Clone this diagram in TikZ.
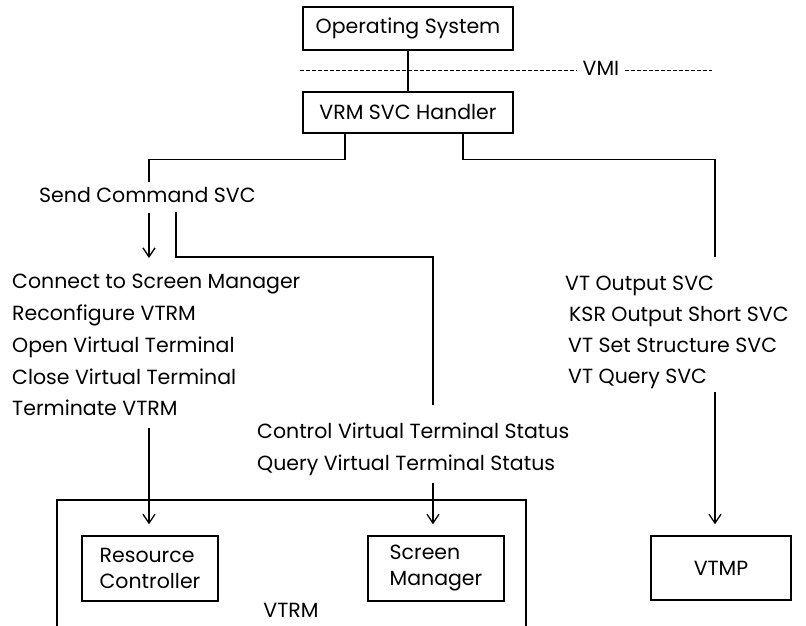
\documentclass[tikz,border=0pt]{standalone}
\usepackage{fontspec}
\setmainfont{Poppins}
\usetikzlibrary{arrows.meta}

\tikzset{
  every node/.style={font=\fontsize{20.5pt}{26pt}\selectfont, inner sep=0pt},
  line/.style={line width=1.3pt},
  box/.style={draw, line width=1.3pt, align=center},
  arr/.style={line width=1.3pt, -{Straight Barb[length=9pt, width=12pt, line width=1.3pt]}},
  vmiline/.style={line width=1pt, dash pattern=on 4pt off 2pt},
  lbl/.style={anchor=west, text height=15pt, text depth=4pt}
}

\begin{document}
\begin{tikzpicture}[x=1pt, y=-1pt]
  \useasboundingbox (0,0) rectangle (806,625);

  % top of the stack
  \node[box, minimum width=210pt, minimum height=43pt] (os) at (408,28.5) {Operating System};
  \node[box, minimum width=210pt, minimum height=41pt] (vrm) at (408,112.5) {VRM SVC Handler};
  \draw[line] (os) -- (vrm);

  % virtual machine interface
  \node[text height=15pt, text depth=4pt] (vmi) at (601,70) {VMI};
  \coordinate (vmiL) at (300,70);
  \coordinate (vmiR) at (712,70);
  \draw[vmiline] (vmiL) -- ([xshift=-6pt]vmi.west);
  \draw[vmiline] ([xshift=6pt]vmi.east) -- (vmiR);

  % command path
  \node[lbl] (sc) at (39,197) {Send Command SVC};
  \coordinate (scTop) at (149,182);
  \draw[line] ([xshift=-63pt]vrm.south) -- ++(0,26) -| (scTop);

  \node[lbl] (l1) at (12,283) {Connect to Screen Manager};
  \node[lbl] (l2) at (12,315) {Reconfigure VTRM};
  \node[lbl] (l3) at (12,347) {Open Virtual Terminal};
  \node[lbl] (l4) at (12,379) {Close Virtual Terminal};
  \node[lbl] (l5) at (12,410) {Terminate VTRM};

  \coordinate (scA) at (149,213);
  \coordinate (scB) at (149,258);
  \draw[arr] (scA) -- (scB);

  \coordinate (ctlA) at (176,212);
  \coordinate (ctlTop) at (433,405);
  \draw[line] (ctlA) -- ++(0,45) -| (ctlTop);

  \node[lbl] (c1) at (257,433) {Control Virtual Terminal Status};
  \node[lbl] (c2) at (257,465) {Query Virtual Terminal Status};

  % output path
  \coordinate (vtTop) at (715,257);
  \draw[line] ([xshift=55pt]vrm.south) -- ++(0,26) -| (vtTop);

  \node[lbl] (r1) at (565,285) {VT Output SVC};
  \node[lbl] (r2) at (569,316) {KSR Output Short SVC};
  \node[lbl] (r3) at (568,347) {VT Set Structure SVC};
  \node[lbl] (r4) at (568,378) {VT Query SVC};

  % VTRM components
  \draw[line] (57,630) -- (57,500) -- (526,500) -- (526,630);
  \node (vtrm) at (291,610) {VTRM};
  \node[box, minimum width=136pt, minimum height=65pt, align=left] (rc) at (150,568.5) {Resource\\Controller};
  \node[box, minimum width=136pt, minimum height=65pt, align=left] (sm) at (436,568.5) {Screen\\Manager};
  \node[box, minimum width=140pt, minimum height=64pt] (vtmp) at (721,568) {VTMP};

  \coordinate (rcT) at ([yshift=11pt]rc.north);
  \coordinate (smT) at ([yshift=11pt]sm.north);
  \coordinate (vtT) at ([yshift=11pt]vtmp.north);
  \coordinate (rcA) at (149,428);
  \coordinate (smA) at (433,483);
  \coordinate (vtA) at (715,392);
  \draw[arr] (rcA) -- (rcA |- rcT);
  \draw[arr] (smA) -- (smA |- smT);
  \draw[arr] (vtA) -- (vtA |- vtT);
\end{tikzpicture}
\end{document}
